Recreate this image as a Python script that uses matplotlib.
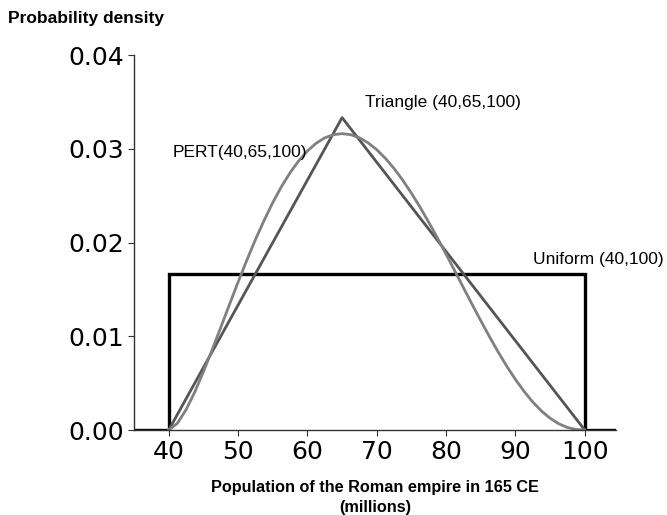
import matplotlib
matplotlib.use("Agg")
import matplotlib.pyplot as plt

# population (millions) and read-off densities
uniform_x = [35, 40, 40, 100, 100, 104.5]
uniform_y = [0, 0, 0.01667, 0.01667, 0, 0]

triangle_x = [40, 65, 100]
triangle_y = [0, 0.03333, 0]

pert_x = [40, 41.25, 42.5, 43.75, 45, 46.25, 47.5, 48.75, 50, 51.25, 52.5,
          53.75, 55, 56.25, 57.5, 58.75, 60, 61.25, 62.5, 63.75, 65, 66.25,
          67.5, 68.75, 70, 71.25, 72.5, 73.75, 75, 76.25, 77.5, 78.75, 80,
          81.25, 82.5, 83.75, 85, 86.25, 87.5, 88.75, 90, 91.25, 92.5, 93.75,
          95, 96.25, 97.5, 98.75, 100]
pert_y = [0, 0.00072, 0.00217, 0.00405, 0.00621, 0.00854, 0.01094, 0.01338,
          0.01578, 0.01810, 0.02031, 0.02236, 0.02426, 0.02596, 0.02745,
          0.02873, 0.02977, 0.03059, 0.03117, 0.03151, 0.03162, 0.03151,
          0.03118, 0.03064, 0.02991, 0.02899, 0.02790, 0.02665, 0.02527,
          0.02377, 0.02216, 0.02049, 0.01875, 0.01698, 0.01519, 0.01341,
          0.01166, 0.00997, 0.00834, 0.00681, 0.00540, 0.00412, 0.00299,
          0.00203, 0.00126, 0.00067, 0.00027, 0.00006, 0]

x_ticks = [40, 50, 60, 70, 80, 90, 100]
y_ticks = [0.00, 0.01, 0.02, 0.03, 0.04]

fig = plt.figure(figsize=(6.67, 5.15), dpi=100)
ax = fig.add_axes([0.201, 0.165, 0.7225, 0.728])

ax.plot(uniform_x, uniform_y, color="black", lw=2.4, solid_joinstyle="miter")
ax.plot(triangle_x, triangle_y, color="#555555", lw=2.0)
ax.plot(pert_x, pert_y, color="#808080", lw=2.0)

ax.set_xlim(35, 104.5)
ax.set_ylim(0, 0.04)
ax.set_xticks(x_ticks)
ax.set_yticks(y_ticks)
ax.set_yticklabels([f"{v:.2f}" for v in y_ticks])
ax.tick_params(labelsize=18, length=4, width=0.8, color="#333333")
for side in ["top", "right"]:
    ax.spines[side].set_visible(False)
for side in ["left", "bottom"]:
    ax.spines[side].set_color("#333333")
    ax.spines[side].set_linewidth(1.0)

lab = dict(family="Liberation Sans", fontsize=12.5)
ax.text(40.6, 0.0296, "PERT(40,65,100)", va="center", **lab)
ax.text(68.3, 0.0349, "Triangle (40,65,100)", va="center", **lab)
ax.text(92.5, 0.0182, "Uniform (40,100)", va="center", **lab)

fig.text(0.012, 0.965, "Probability density", family="Liberation Sans",
         fontsize=12.5, fontweight="bold", va="center")
ax.set_xlabel("Population of the Roman empire in 165 CE\n(millions)",
              family="Liberation Sans", fontsize=11.7, fontweight="bold",
              linespacing=1.45, labelpad=11)

fig.savefig("out.png", dpi=100)
